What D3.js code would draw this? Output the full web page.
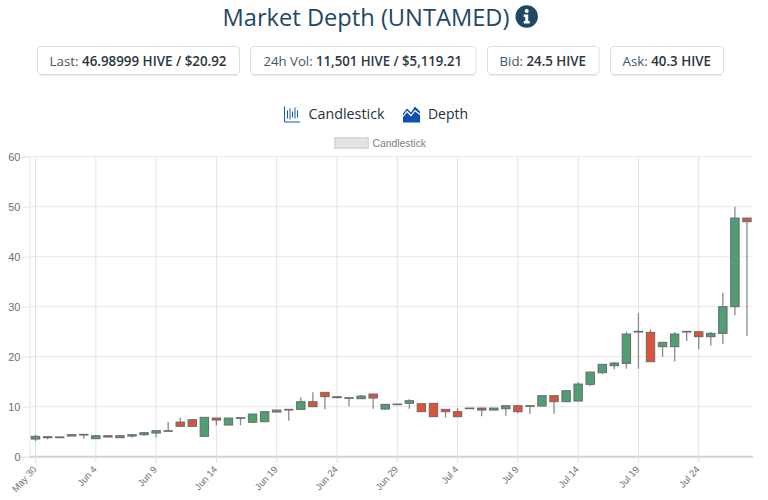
<!DOCTYPE html>
<html>
<head>
<meta charset="utf-8">
<script src="https://cdn.jsdelivr.net/npm/d3@7/dist/d3.min.js"></script>
<style>
html,body{margin:0;padding:0;background:#fff;overflow:hidden}
svg{display:block}
</style>
</head>
<body>
<svg id="page" width="768" height="500"></svg>
<script>
// Daily candles for UNTAMED priced in HIVE
const days = ["May 30","May 31","Jun 1","Jun 2","Jun 3","Jun 4","Jun 5","Jun 6","Jun 7","Jun 8",
  "Jun 9","Jun 10","Jun 11","Jun 12","Jun 13","Jun 14","Jun 15","Jun 16","Jun 17","Jun 18",
  "Jun 19","Jun 20","Jun 21","Jun 22","Jun 23","Jun 24","Jun 25","Jun 26","Jun 27","Jun 28",
  "Jun 29","Jun 30","Jul 1","Jul 2","Jul 3","Jul 4","Jul 5","Jul 6","Jul 7","Jul 8",
  "Jul 9","Jul 10","Jul 11","Jul 12","Jul 13","Jul 14","Jul 15","Jul 16","Jul 17","Jul 18",
  "Jul 19","Jul 20","Jul 21","Jul 22","Jul 23","Jul 24","Jul 25","Jul 26","Jul 27","Jul 28"];
const opens = [3.53,3.8,3.8,4.13,4.33,3.6,4.2,3.8,4.13,4.4,
  4.73,5.07,6.93,7.4,4.07,7.73,6.33,7.67,6.87,7,
  8.93,9.33,9.47,11,12.87,12,11.8,11.6,12.53,9.53,
  10.53,10.67,10.6,10.67,9.47,9,9.73,9.73,9.33,9.6,
  10.2,10.2,10.13,12.2,11,11.13,14.47,16.8,18.2,18.67,
  25.07,24.87,22,22,25.07,25,24,24.67,30,47.73];
const closes = [4.07,4,3.95,4.4,4.47,4.2,3.93,4.2,4.4,4.8,
  5.2,5.2,6.07,6.07,7.87,7.33,7.73,7.8,8.53,9,
  9.33,9.47,11,10,12,11.8,11.67,12.13,11.73,10.47,
  10.4,11.2,9,8,9,8,9.6,9.33,9.73,10.2,
  9,10.07,12.2,11,13.2,14.53,16.93,18.47,18.73,24.53,
  24.93,19,22.87,24.53,24.93,24,24.67,30,47.73,47];
const highs = [4.4,4.13,3.95,4.5,4.47,4.25,4.2,4.2,4.4,4.93,
  5.2,6.93,7.8,7.4,7.87,7.73,7.73,7.8,8.53,9,
  9.33,9.47,11.87,12.87,12.87,12,11.8,12.4,12.53,10.47,
  10.53,11.47,10.6,10.67,9.47,9.73,9.73,9.73,9.73,10.2,
  10.2,10.2,12.2,12.2,13.2,14.93,16.93,18.47,18.93,25,
  28.73,25.47,22.87,24.93,25.07,25,24.93,32.8,50,47.73];
const lows = [3.1,3.47,3.8,4.13,3.6,3.6,3.93,3.8,3.8,4.2,
  3.87,5.07,6.07,6.07,4.07,6.27,6.33,6.27,6.87,7,
  8.93,7.2,9.47,10,9.47,11.8,10.07,11.6,9.6,9.33,
  10.4,9.6,9,8,7.8,8,9.6,8.07,9.33,8.2,
  8.67,8.53,10.13,8.53,11,11.13,14.07,16.53,17.47,17.6,
  17.6,19,20,19.07,23.13,21.47,22.2,22.53,28.27,24.13];
const tickDays = ["May 30","Jun 4","Jun 9","Jun 14","Jun 19","Jun 24","Jun 29","Jul 4","Jul 9","Jul 14","Jul 19","Jul 24"];
const priceTicks = [0,10,20,30,40,50,60];

// Header copy: label and value for each stat card
const statLabels = ["Last: ","24h Vol: ","Bid: ","Ask: "];
const statValues = ["46.98999 HIVE / $20.92","11,501 HIVE / $5,119.21","24.5 HIVE","40.3 HIVE"];
const statLefts = [37.5,250.5,487.5,610.5];
const statRights = [239.5,476,599,723.5];
const statTextLefts = [49.5,263.5,499.5,622.5];
const statTextWidths = [177,198.5,86.5,88.5];

const UI = "'Open Sans', sans-serif";
const CHART = "'Liberation Sans', Arial, sans-serif";
const svg = d3.select("#page");

// Title and info badge
svg.append("text").attr("x",222.5).attr("y",25.5).attr("textLength",287).attr("lengthAdjust","spacingAndGlyphs")
  .attr("font-family",UI).attr("font-size",23.8).attr("fill","#1f4866").text("Market Depth (UNTAMED)");
const info = svg.append("g").attr("transform","translate(526.7,16.5)");
info.append("circle").attr("r",11.2).attr("fill","#1f4866");
info.append("circle").attr("cy",-5.5).attr("r",2).attr("fill","#fff");
info.append("path").attr("d","M-3,-2H1.5V4.5H3V7H-3V4.5H-1.5V0.5H-3Z").attr("fill","#fff");

// Stat cards
statLabels.forEach((label,i)=>{
  svg.append("rect").attr("x",statLefts[i]).attr("y",46.5)
    .attr("width",statRights[i]-statLefts[i]).attr("height",28).attr("rx",3.5)
    .attr("fill","#fff").attr("stroke","#dcdfe2");
  svg.append("line").attr("x1",statLefts[i]+2).attr("x2",statRights[i]-2).attr("y1",75.5).attr("y2",75.5)
    .attr("stroke","#e6e8ea");
  const t = svg.append("text").attr("x",statTextLefts[i]).attr("y",66)
    .attr("textLength",statTextWidths[i]).attr("lengthAdjust","spacingAndGlyphs")
    .attr("font-family",UI).attr("font-size",13.4);
  t.append("tspan").attr("fill","#44566a").text(label);
  t.append("tspan").attr("fill","#2c3640").attr("font-weight",600).text(statValues[i]);
});

// View switcher icons and captions
const blue = "#1554b8";
const cIcon = svg.append("g").attr("transform","translate(284,106.5)");
cIcon.append("path").attr("d","M0.5,0V15.5H16").attr("fill","none").attr("stroke",blue).attr("stroke-width",1);
[[3.5,4,12],[6,2,13],[8.5,5,11],[11,1,12],[13.5,4,11]].forEach(([px,a,b])=>{
  cIcon.append("line").attr("x1",px).attr("x2",px).attr("y1",a).attr("y2",b).attr("stroke",blue).attr("stroke-width",1);
});
svg.append("text").attr("x",308.5).attr("y",119).attr("textLength",76).attr("lengthAdjust","spacingAndGlyphs")
  .attr("font-family",UI).attr("font-size",14.3).attr("fill","#23313f").text("Candlestick");
const dIcon = svg.append("g").attr("transform","translate(403,106.5)");
dIcon.append("path").attr("d","M0,7L4,2L8,6L12,0L17,5V16H0Z").attr("fill","#0f4fae");
dIcon.append("path").attr("d","M0,10L4,5L8,9L12,4L17,8").attr("fill","none").attr("stroke","#fff").attr("stroke-width",1.2);
svg.append("text").attr("x",428).attr("y",119).attr("textLength",40).attr("lengthAdjust","spacingAndGlyphs")
  .attr("font-family",UI).attr("font-size",14.3).attr("fill","#23313f").text("Depth");

// Chart legend
svg.append("rect").attr("x",335).attr("y",138).attr("width",33).attr("height",10)
  .attr("fill","#e4e4e4").attr("stroke","#d9d9d9").attr("stroke-width",2);
svg.append("text").attr("x",372.5).attr("y",146.5).attr("textLength",53.5).attr("lengthAdjust","spacingAndGlyphs")
  .attr("font-family",CHART).attr("font-size",11).attr("fill","#7d7d7d").text("Candlestick");

// Scales
const x = d3.scaleBand().domain(days).range([29.5,753]);
const y = d3.scaleLinear().domain([0,60]).range([456.7,156.7]);

// Price axis with horizontal grid
const yAxis = svg.append("g").attr("transform","translate(29.5,0)")
  .call(d3.axisLeft(y).tickValues(priceTicks).tickSize(8).tickPadding(1));
yAxis.select(".domain").attr("stroke","#e2e2e2");
yAxis.selectAll(".tick line").attr("stroke","#e6e6e6");
yAxis.selectAll(".tick text").attr("font-family",CHART).attr("font-size",11).attr("fill","#6f6f6f");
svg.append("g").selectAll("line").data(priceTicks).join("line")
  .attr("x1",29.5).attr("x2",753).attr("y1",d=>y(d)).attr("y2",d=>y(d))
  .attr("stroke",d=>d===0?"#d2d2d2":"#e9e9e9").attr("stroke-width",d=>d===0?2:1);

// Date axis with vertical grid
const xAxis = svg.append("g").attr("transform","translate(0,456.7)")
  .call(d3.axisBottom(x).tickValues(tickDays).tickSize(6));
xAxis.select(".domain").remove();
xAxis.selectAll(".tick line").attr("stroke","#e2e2e2");
xAxis.selectAll(".tick text").attr("font-family",CHART).attr("font-size",9.5).attr("fill","#6f6f6f")
  .attr("text-anchor","end").attr("x",0).attr("y",0).attr("dy",0).attr("transform","translate(1.5,13) rotate(-48)");
svg.append("g").selectAll("line").data(tickDays).join("line")
  .attr("x1",d=>x(d)+x.bandwidth()/2).attr("x2",d=>x(d)+x.bandwidth()/2)
  .attr("y1",y(60)).attr("y2",y(0)).attr("stroke","#e3e3e3");

// Candles: wick behind a bordered body
const candles = svg.append("g").selectAll("g").data(days).join("g")
  .attr("transform",d=>`translate(${x(d)+x.bandwidth()/2},0)`);
candles.append("line")
  .attr("y1",(d,i)=>y(highs[i])).attr("y2",(d,i)=>y(lows[i]))
  .attr("stroke","#8a8a8a").attr("stroke-width",1.3);
candles.append("rect").attr("x",-4.2).attr("width",8.4)
  .attr("y",(d,i)=>y(Math.max(opens[i],closes[i])))
  .attr("height",(d,i)=>Math.abs(y(opens[i])-y(closes[i])))
  .attr("fill",(d,i)=>closes[i]>=opens[i]?"#4f9f72":"#dd5339")
  .attr("stroke","#6a6a6a").attr("stroke-width",1);
</script>
</body>
</html>
